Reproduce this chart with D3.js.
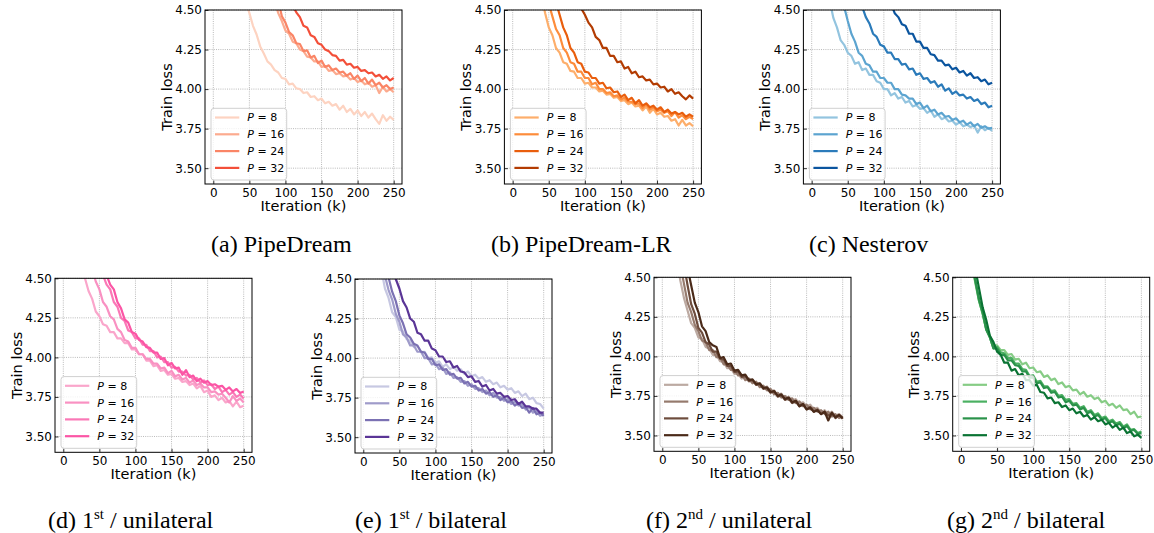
<!DOCTYPE html>
<html>
<head>
<meta charset="utf-8">
<script src="https://cdn.jsdelivr.net/npm/d3@7"></script>
<style>
  body { margin: 0; background: #fff; }
  svg { display: block; }
</style>
</head>
<body>
<svg id="fig" width="1154" height="533"></svg>
<script>
// iteration grid (k), every series ends at 250k
const iterations = [0, 5, 10, 15, 20, 25, 30, 35, 40, 45, 50, 55, 60, 65, 70, 75, 80, 85, 90, 95,
  100, 105, 110, 115, 120, 125, 130, 135, 140, 145, 150, 155, 160, 165, 170, 175, 180, 185, 190, 195,
  200, 205, 210, 215, 220, 225, 230, 235, 240, 245, 250];
const xTicks = [0, 50, 100, 150, 200, 250];
const yTicks = [3.50, 3.75, 4.00, 4.25, 4.50];
const pValues = [8, 16, 24, 32];

// (a) PipeDream
const pipeDreamP8 = [4.56, 4.48, 4.40, 4.345, 4.27, 4.225, 4.175, 4.155, 4.12, 4.105,
  4.07, 4.065, 4.03, 4.035, 4.005, 4.00, 3.975, 3.98, 3.95, 3.955,
  3.93, 3.94, 3.91, 3.92, 3.895, 3.905, 3.87, 3.895, 3.855, 3.875,
  3.84, 3.865, 3.83, 3.855, 3.82, 3.845, 3.81, 3.78, 3.835, 3.80,
  3.825, 3.805];
const pipeDreamP16 = [4.56, 4.48, 4.43, 4.37, 4.35, 4.30, 4.29, 4.25, 4.24, 4.205,
  4.20, 4.175, 4.175, 4.14, 4.145, 4.115, 4.12, 4.095, 4.10, 4.08,
  4.085, 4.06, 4.07, 4.045, 4.055, 4.03, 4.04, 4.015, 4.025, 3.975,
  4.015, 3.985, 4.00, 3.98];
const pipeDreamP24 = [4.56, 4.46, 4.42, 4.36, 4.34, 4.29, 4.285, 4.24, 4.245, 4.20,
  4.21, 4.165, 4.18, 4.14, 4.15, 4.12, 4.13, 4.105, 4.11, 4.085,
  4.10, 4.065, 4.085, 4.05, 4.07, 4.035, 4.06, 4.025, 4.04, 4.01,
  4.025, 4.00, 4.01];
const pipeDreamP32 = [4.53, 4.485, 4.455, 4.40, 4.39, 4.34, 4.33, 4.29, 4.28, 4.25,
  4.24, 4.215, 4.21, 4.18, 4.185, 4.155, 4.16, 4.135, 4.14, 4.115,
  4.12, 4.10, 4.105, 4.08, 4.09, 4.065, 4.08, 4.055, 4.07];

// (b) PipeDream-LR
const pipeDreamLrP8 = [4.58, 4.48, 4.39, 4.34, 4.26, 4.23, 4.17, 4.16, 4.115, 4.11,
  4.07, 4.07, 4.035, 4.04, 4.01, 4.01, 3.985, 3.99, 3.965, 3.97,
  3.945, 3.95, 3.925, 3.93, 3.905, 3.915, 3.89, 3.895, 3.865, 3.89,
  3.85, 3.875, 3.84, 3.85, 3.825, 3.83, 3.80, 3.81, 3.77, 3.805,
  3.77, 3.785, 3.765];
const pipeDreamLrP16 = [4.54, 4.46, 4.38, 4.34, 4.26, 4.23, 4.17, 4.16, 4.11, 4.11,
  4.07, 4.07, 4.03, 4.04, 4.00, 4.00, 3.975, 3.98, 3.955, 3.96,
  3.935, 3.945, 3.92, 3.92, 3.905, 3.91, 3.88, 3.905, 3.87, 3.885,
  3.86, 3.87, 3.85, 3.86, 3.83, 3.855, 3.82, 3.835, 3.81, 3.825,
  3.81];
const pipeDreamLrP24 = [4.55, 4.47, 4.39, 4.34, 4.26, 4.23, 4.17, 4.16, 4.11, 4.105,
  4.07, 4.07, 4.035, 4.04, 4.005, 4.01, 3.98, 3.985, 3.95, 3.965,
  3.93, 3.945, 3.91, 3.93, 3.895, 3.91, 3.885, 3.895, 3.87, 3.885,
  3.855, 3.87, 3.845, 3.855, 3.84, 3.85, 3.825, 3.84, 3.825];
const pipeDreamLrP32 = [4.51, 4.47, 4.42, 4.39, 4.33, 4.31, 4.26, 4.26, 4.21, 4.21,
  4.17, 4.175, 4.13, 4.14, 4.10, 4.11, 4.075, 4.08, 4.055, 4.06,
  4.03, 4.035, 4.01, 4.015, 3.985, 4.00, 3.97, 3.98, 3.955, 3.935,
  3.96, 3.94];

// (c) Nesterov
const nesterovP8 = [4.56, 4.45, 4.39, 4.31, 4.28, 4.23, 4.21, 4.16, 4.17, 4.12,
  4.13, 4.09, 4.09, 4.05, 4.04, 4.00, 4.00, 3.96, 3.975, 3.94,
  3.95, 3.915, 3.925, 3.89, 3.90, 3.875, 3.88, 3.85, 3.865, 3.825,
  3.84, 3.81, 3.82, 3.795, 3.80, 3.775, 3.79, 3.765, 3.775, 3.76,
  3.77, 3.725, 3.765, 3.74, 3.755, 3.735];
const nesterovP16 = [4.52, 4.43, 4.35, 4.30, 4.23, 4.21, 4.16, 4.15, 4.11, 4.11,
  4.07, 4.07, 4.04, 4.04, 4.00, 4.00, 3.965, 3.96, 3.94, 3.94,
  3.905, 3.915, 3.88, 3.895, 3.86, 3.87, 3.84, 3.85, 3.825, 3.83,
  3.805, 3.815, 3.79, 3.80, 3.775, 3.79, 3.765, 3.78, 3.755, 3.765,
  3.75, 3.755];
const nesterovP24 = [4.52, 4.455, 4.415, 4.35, 4.33, 4.28, 4.27, 4.23, 4.23, 4.19,
  4.19, 4.155, 4.16, 4.125, 4.13, 4.09, 4.10, 4.065, 4.07, 4.04,
  4.05, 4.015, 4.03, 3.99, 4.005, 3.97, 3.985, 3.96, 3.965, 3.94,
  3.95, 3.925, 3.935, 3.905, 3.915, 3.885, 3.895];
const nesterovP32 = [4.54, 4.48, 4.455, 4.41, 4.40, 4.35, 4.35, 4.30, 4.30, 4.26,
  4.26, 4.22, 4.215, 4.18, 4.18, 4.15, 4.155, 4.125, 4.135, 4.105,
  4.115, 4.085, 4.10, 4.07, 4.075, 4.05, 4.06, 4.03, 4.04];

// (d) 1st / unilateral
const firstUniP8 = [4.60, 4.50, 4.42, 4.37, 4.29, 4.26, 4.21, 4.20, 4.16, 4.16,
  4.12, 4.12, 4.09, 4.09, 4.05, 4.05, 4.02, 4.02, 3.98, 3.98,
  3.945, 3.95, 3.915, 3.92, 3.89, 3.895, 3.865, 3.87, 3.845, 3.85,
  3.825, 3.835, 3.805, 3.82, 3.78, 3.79, 3.75, 3.76, 3.73, 3.745,
  3.715, 3.725, 3.69, 3.72, 3.685, 3.695];
const firstUniP16 = [4.56, 4.48, 4.43, 4.35, 4.32, 4.26, 4.24, 4.18, 4.16, 4.11,
  4.10, 4.06, 4.06, 4.02, 4.02, 3.99, 3.99, 3.96, 3.96, 3.93,
  3.935, 3.90, 3.915, 3.88, 3.89, 3.86, 3.87, 3.84, 3.855, 3.825,
  3.835, 3.81, 3.81, 3.78, 3.785, 3.765, 3.77, 3.745, 3.715, 3.755,
  3.725, 3.74, 3.715];
const firstUniP24 = [4.52, 4.46, 4.43, 4.35, 4.32, 4.25, 4.23, 4.17, 4.16, 4.12,
  4.12, 4.08, 4.08, 4.04, 4.04, 4.00, 4.005, 3.97, 3.97, 3.935,
  3.94, 3.91, 3.91, 3.885, 3.89, 3.86, 3.87, 3.84, 3.855, 3.825,
  3.83, 3.80, 3.815, 3.78, 3.795, 3.765, 3.78, 3.75, 3.765, 3.74];
const firstUniP32 = [4.52, 4.46, 4.43, 4.35, 4.31, 4.24, 4.22, 4.16, 4.15, 4.11,
  4.10, 4.065, 4.06, 4.03, 4.03, 3.99, 3.995, 3.95, 3.965, 3.93,
  3.935, 3.89, 3.92, 3.875, 3.885, 3.85, 3.865, 3.84, 3.85, 3.825,
  3.83, 3.815, 3.82, 3.795, 3.81, 3.785, 3.80, 3.775, 3.785];

// (e) 1st / bilateral
const firstBiP8 = [4.56, 4.44, 4.38, 4.29, 4.26, 4.18, 4.17, 4.12, 4.11, 4.07,
  4.075, 4.04, 4.04, 4.00, 4.005, 3.97, 3.98, 3.945, 3.96, 3.93,
  3.945, 3.92, 3.93, 3.90, 3.915, 3.885, 3.895, 3.87, 3.88, 3.85,
  3.86, 3.835, 3.845, 3.815, 3.825, 3.80, 3.81, 3.78, 3.79, 3.76,
  3.775, 3.74, 3.75, 3.715, 3.71, 3.68];
const firstBiP16 = [4.62, 4.52, 4.43, 4.37, 4.28, 4.23, 4.15, 4.13, 4.08, 4.08,
  4.04, 4.04, 4.00, 4.00, 3.96, 3.965, 3.93, 3.94, 3.90, 3.91,
  3.875, 3.88, 3.85, 3.855, 3.825, 3.835, 3.805, 3.81, 3.785, 3.795,
  3.765, 3.78, 3.75, 3.755, 3.73, 3.74, 3.71, 3.725, 3.70, 3.71,
  3.675, 3.69, 3.655, 3.665, 3.635, 3.645];
const firstBiP24 = [4.60, 4.51, 4.42, 4.36, 4.27, 4.22, 4.15, 4.13, 4.09, 4.08,
  4.04, 4.035, 3.995, 3.995, 3.955, 3.96, 3.925, 3.93, 3.895, 3.90,
  3.87, 3.875, 3.84, 3.85, 3.82, 3.825, 3.795, 3.805, 3.775, 3.785,
  3.755, 3.765, 3.735, 3.75, 3.72, 3.73, 3.70, 3.715, 3.685, 3.69,
  3.655, 3.685, 3.645, 3.655, 3.635];
const firstBiP32 = [4.60, 4.50, 4.44, 4.36, 4.32, 4.25, 4.23, 4.16, 4.15, 4.11,
  4.11, 4.06, 4.05, 4.01, 4.01, 3.975, 3.98, 3.94, 3.95, 3.915,
  3.91, 3.88, 3.885, 3.85, 3.855, 3.82, 3.83, 3.795, 3.805, 3.775,
  3.78, 3.755, 3.76, 3.735, 3.74, 3.71, 3.725, 3.695, 3.695, 3.68,
  3.68, 3.655, 3.655];

// (f) 2nd / unilateral
const secondUniP8 = [4.62, 4.48, 4.37, 4.29, 4.21, 4.18, 4.12, 4.11, 4.06, 4.05,
  4.01, 4.01, 3.97, 3.965, 3.925, 3.925, 3.89, 3.89, 3.86, 3.87,
  3.84, 3.85, 3.82, 3.83, 3.80, 3.81, 3.78, 3.785, 3.755, 3.765,
  3.735, 3.745, 3.72, 3.73, 3.70, 3.71, 3.685, 3.695, 3.665, 3.675,
  3.645, 3.66, 3.635, 3.65, 3.625, 3.635, 3.615];
const secondUniP16 = [4.58, 4.46, 4.34, 4.28, 4.20, 4.16, 4.10, 4.09, 4.04, 4.04,
  3.995, 3.995, 3.95, 3.95, 3.915, 3.915, 3.88, 3.885, 3.85, 3.86,
  3.83, 3.84, 3.805, 3.815, 3.785, 3.795, 3.76, 3.77, 3.74, 3.75,
  3.725, 3.735, 3.705, 3.715, 3.685, 3.695, 3.665, 3.675, 3.65, 3.66,
  3.635, 3.65, 3.62, 3.635, 3.61, 3.62];
const secondUniP24 = [4.58, 4.45, 4.33, 4.27, 4.18, 4.15, 4.09, 4.075, 4.03, 4.03,
  3.985, 3.98, 3.94, 3.94, 3.90, 3.905, 3.87, 3.875, 3.845, 3.85,
  3.82, 3.825, 3.795, 3.80, 3.77, 3.78, 3.745, 3.755, 3.725, 3.735,
  3.705, 3.715, 3.685, 3.695, 3.665, 3.68, 3.65, 3.665, 3.635, 3.65,
  3.625, 3.64, 3.61, 3.63, 3.605];
const secondUniP32 = [4.56, 4.45, 4.34, 4.28, 4.19, 4.16, 4.09, 4.07, 4.06, 3.99,
  3.995, 3.95, 3.955, 3.91, 3.915, 3.88, 3.885, 3.85, 3.855, 3.825,
  3.83, 3.80, 3.805, 3.775, 3.78, 3.75, 3.76, 3.73, 3.74, 3.71,
  3.72, 3.685, 3.70, 3.665, 3.675, 3.65, 3.66, 3.635, 3.65, 3.595,
  3.645, 3.615, 3.63, 3.61];

// (g) 2nd / bilateral
const secondBiP8 = [4.58, 4.46, 4.35, 4.27, 4.17, 4.13, 4.07, 4.07, 4.04, 4.04,
  4.01, 4.015, 3.98, 3.985, 3.95, 3.96, 3.925, 3.93, 3.90, 3.905,
  3.87, 3.88, 3.85, 3.86, 3.825, 3.835, 3.805, 3.815, 3.785, 3.79,
  3.76, 3.775, 3.745, 3.755, 3.73, 3.74, 3.71, 3.72, 3.69, 3.70,
  3.675, 3.69, 3.66, 3.665, 3.635, 3.65, 3.615, 3.62];
const secondBiP16 = [4.59, 4.47, 4.35, 4.27, 4.17, 4.12, 4.05, 4.06, 4.025, 4.02,
  3.99, 3.99, 3.955, 3.955, 3.92, 3.915, 3.875, 3.88, 3.84, 3.845,
  3.81, 3.81, 3.78, 3.785, 3.75, 3.755, 3.725, 3.73, 3.70, 3.705,
  3.675, 3.685, 3.65, 3.66, 3.63, 3.64, 3.61, 3.62, 3.59, 3.60,
  3.575, 3.585, 3.555, 3.57, 3.535, 3.54, 3.515, 3.525];
const secondBiP24 = [4.60, 4.48, 4.36, 4.28, 4.17, 4.12, 4.05, 4.05, 4.01, 4.01,
  3.975, 3.975, 3.945, 3.94, 3.905, 3.905, 3.865, 3.865, 3.83, 3.835,
  3.80, 3.805, 3.77, 3.775, 3.74, 3.745, 3.71, 3.72, 3.69, 3.695,
  3.665, 3.675, 3.64, 3.65, 3.62, 3.63, 3.60, 3.61, 3.58, 3.59,
  3.565, 3.575, 3.545, 3.56, 3.53, 3.535, 3.51, 3.515];
const secondBiP32 = [4.55, 4.43, 4.31, 4.23, 4.13, 4.09, 4.03, 4.01, 3.96, 3.96,
  3.91, 3.92, 3.88, 3.89, 3.85, 3.85, 3.815, 3.82, 3.775, 3.77,
  3.735, 3.74, 3.705, 3.71, 3.68, 3.69, 3.66, 3.67, 3.64, 3.65,
  3.62, 3.63, 3.60, 3.615, 3.59, 3.60, 3.57, 3.58, 3.55, 3.565,
  3.535, 3.55, 3.515, 3.525, 3.495, 3.505, 3.485];

const panels = [
  { series: [pipeDreamP8, pipeDreamP16, pipeDreamP24, pipeDreamP32],
    colors: ["#fdd3c1", "#fcab8f", "#fa8566", "#f34f39"], left: 205, top: 10,
    caption: ["(a) PipeDream"], capX: 211, capY: 252 },
  { series: [pipeDreamLrP8, pipeDreamLrP16, pipeDreamLrP24, pipeDreamLrP32],
    colors: ["#fdae6b", "#fd8c3b", "#e95e0d", "#b33c02"], left: 504.4, top: 10,
    caption: ["(b) PipeDream-LR"], capX: 491, capY: 252 },
  { series: [nesterovP8, nesterovP16, nesterovP24, nesterovP32],
    colors: ["#93c4df", "#5ca4d0", "#2b7bba", "#0b559f"], left: 803.4, top: 10,
    caption: ["(c) Nesterov"], capX: 809, capY: 252 },
  { series: [firstUniP8, firstUniP16, firstUniP24, firstUniP32],
    colors: ["#faa6cb", "#f991c2", "#fa78b6", "#fb55a5"], left: 55, top: 278.3,
    caption: ["(d) 1", "st", " / unilateral"], capX: 48, capY: 528 },
  { series: [firstBiP8, firstBiP16, firstBiP24, firstBiP32],
    colors: ["#c7c8e2", "#9f9bca", "#7b71b3", "#5a3596"], left: 355, top: 279,
    caption: ["(e) 1", "st", " / bilateral"], capX: 355, capY: 528 },
  { series: [secondUniP8, secondUniP16, secondUniP24, secondUniP32],
    colors: ["#bcaaa2", "#957a6d", "#6d4c3d", "#4a2a19"], left: 654, top: 277.3,
    caption: ["(f) 2", "nd", " / unilateral"], capX: 646, capY: 528 },
  { series: [secondBiP8, secondBiP16, secondBiP24, secondBiP32],
    colors: ["#86cc85", "#4bb062", "#2a924a", "#0a7333"], left: 952.7, top: 277.3,
    caption: ["(g) 2", "nd", " / bilateral"], capX: 947, capY: 528 }
];

const W = 197, H = 174;
const sans = "DejaVu Sans, Verdana, sans-serif";
const serif = "Liberation Serif, Times New Roman, serif";

function toPoints(vals) {
  const off = iterations.length - vals.length;
  return vals.map((v, i) => ({ k: iterations[off + i], v: v }));
}

function drawPanel(svg, p, idx) {
  const x = d3.scaleLinear().domain([-11.5, 261.5]).range([p.left, p.left + W]);
  const y = d3.scaleLinear().domain([3.4, 4.5]).range([p.top + H, p.top]);
  const g = svg.append("g");

  g.append("clipPath").attr("id", "clip" + idx)
    .append("rect").attr("x", p.left).attr("y", p.top).attr("width", W).attr("height", H);

  // grid
  g.append("g").selectAll("line").data(xTicks).enter().append("line")
    .attr("x1", d => x(d)).attr("x2", d => x(d))
    .attr("y1", p.top).attr("y2", p.top + H)
    .attr("stroke", "#a8a8a8").attr("stroke-width", 0.8).attr("stroke-dasharray", "1,1.2");
  g.append("g").selectAll("line").data(yTicks).enter().append("line")
    .attr("y1", d => y(d)).attr("y2", d => y(d))
    .attr("x1", p.left).attr("x2", p.left + W)
    .attr("stroke", "#a8a8a8").attr("stroke-width", 0.8).attr("stroke-dasharray", "1,1.2");

  // curves
  const line = d3.line()
    .defined(d => d.v != null)
    .x(d => x(d.k))
    .y(d => y(d.v));
  const lines = g.append("g").attr("clip-path", `url(#clip${idx})`);
  p.series.forEach((s, i) => {
    lines.append("path")
      .datum(toPoints(s))
      .attr("fill", "none")
      .attr("stroke", p.colors[i])
      .attr("stroke-width", 2.2)
      .attr("stroke-linejoin", "round")
      .attr("d", line);
  });

  // axes (ticks pointing in)
  const xAxis = g.append("g")
    .attr("transform", `translate(0,${p.top + H})`)
    .call(d3.axisBottom(x).tickValues(xTicks).tickFormat(d3.format("d"))
      .tickSizeInner(-3.5).tickSizeOuter(0).tickPadding(4));
  const yAxis = g.append("g")
    .attr("transform", `translate(${p.left},0)`)
    .call(d3.axisLeft(y).tickValues(yTicks).tickFormat(d3.format(".2f"))
      .tickSizeInner(-3.5).tickSizeOuter(0).tickPadding(3));
  [xAxis, yAxis].forEach(a => {
    a.select(".domain").remove();
    a.selectAll("text").attr("font-family", sans).attr("font-size", 12).attr("fill", "#000");
    a.selectAll("line").attr("stroke", "#000").attr("stroke-width", 0.8);
  });

  // legend
  const lg = g.append("g").attr("transform", `translate(${p.left + 6},${p.top + H - 4 - 71.7})`);
  lg.append("rect").attr("width", 75.7).attr("height", 71.7).attr("rx", 3)
    .attr("fill", "#fff").attr("fill-opacity", 0.8)
    .attr("stroke", "#d0d0d0").attr("stroke-width", 1);
  pValues.forEach((pv, i) => {
    const ry = 9.2 + i * 16.8;
    lg.append("line").attr("x1", 4).attr("x2", 28.3).attr("y1", ry).attr("y2", ry)
      .attr("stroke", p.colors[i]).attr("stroke-width", 2.2);
    const t = lg.append("text").attr("x", 36.3).attr("y", ry + 4)
      .attr("font-family", sans).attr("font-size", 11).attr("fill", "#000");
    t.append("tspan").attr("font-style", "italic").text("P");
    t.append("tspan").text(" = " + pv);
  });

  // spines
  g.append("rect").attr("x", p.left).attr("y", p.top).attr("width", W).attr("height", H)
    .attr("fill", "none").attr("stroke", "#000").attr("stroke-width", 1);

  // axis labels
  g.append("text").attr("x", p.left + W / 2).attr("y", p.top + H + 27)
    .attr("text-anchor", "middle").attr("font-family", sans).attr("font-size", 14.5)
    .text("Iteration (k)");
  g.append("text")
    .attr("transform", `translate(${p.left - 33.5},${p.top + H / 2}) rotate(-90)`)
    .attr("text-anchor", "middle").attr("font-family", sans).attr("font-size", 14.5)
    .text("Train loss");

  // caption
  const c = svg.append("text").attr("x", p.capX).attr("y", p.capY)
    .attr("font-family", serif).attr("font-size", 24).attr("fill", "#000");
  c.append("tspan").text(p.caption[0]);
  if (p.caption.length > 1) {
    c.append("tspan").attr("font-size", 15).attr("dy", -9).text(p.caption[1]);
    c.append("tspan").attr("dy", 9).text(p.caption[2]);
  }
}

const svg = d3.select("#fig");
panels.forEach((p, i) => drawPanel(svg, p, i));
</script>
</body>
</html>
